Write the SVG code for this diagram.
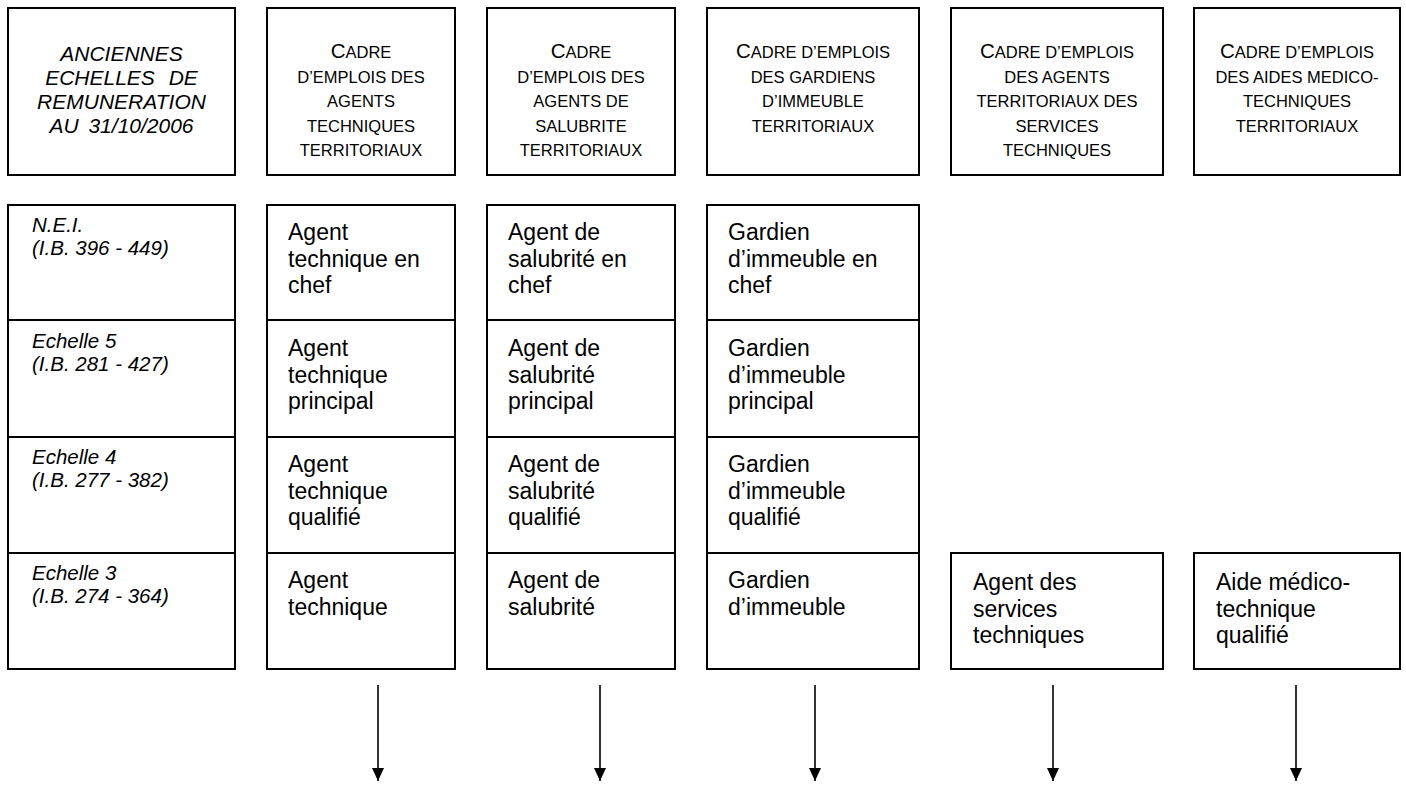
<svg xmlns="http://www.w3.org/2000/svg" width="1406" height="788" viewBox="0 0 1406 788">
<style>
rect.box{fill:#fff;stroke:#000;stroke-width:2}
text{font-family:"Liberation Sans",Arial,sans-serif;fill:#000}
.hd{font-size:16.5px;text-anchor:middle}
.hd .big{font-size:20.5px}
.lh{font-size:21px;font-style:italic;text-anchor:middle}
.lc{font-size:20.5px;font-style:italic}
.bd{font-size:23px}
.conn line{stroke:#000;stroke-width:1.6}
</style>
<defs>
<marker id="ah" markerUnits="userSpaceOnUse" markerWidth="14" markerHeight="14" refX="13" refY="0" viewBox="0 -7 14 14" orient="auto">
<path d="M0,-6 L13,0 L0,6 Z" fill="#000"/>
</marker>
</defs>
<rect width="1406" height="788" fill="#fff"/>

<g id="header-echelles">
<rect class="box" x="8" y="8" width="227" height="167"/>
<text class="lh" x="121.5" y="61">ANCIENNES</text>
<text class="lh" x="121.5" y="85" word-spacing="8">ECHELLES DE</text>
<text class="lh" x="121.5" y="109">REMUNERATION</text>
<text class="lh" x="121.5" y="133" word-spacing="4">AU 31/10/2006</text>
</g>

<g id="header-agents-techniques">
<rect class="box" x="267" y="8" width="188" height="167"/>
<text class="hd" x="361" y="58"><tspan class="big">C</tspan>ADRE</text>
<text class="hd" x="361" y="82.5">D’EMPLOIS DES</text>
<text class="hd" x="361" y="107">AGENTS</text>
<text class="hd" x="361" y="131.5">TECHNIQUES</text>
<text class="hd" x="361" y="156">TERRITORIAUX</text>
</g>

<g id="header-agents-salubrite">
<rect class="box" x="487" y="8" width="188" height="167"/>
<text class="hd" x="581" y="58"><tspan class="big">C</tspan>ADRE</text>
<text class="hd" x="581" y="82.5">D’EMPLOIS DES</text>
<text class="hd" x="581" y="107">AGENTS DE</text>
<text class="hd" x="581" y="131.5">SALUBRITE</text>
<text class="hd" x="581" y="156">TERRITORIAUX</text>
</g>

<g id="header-gardiens">
<rect class="box" x="707" y="8" width="212" height="167"/>
<text class="hd" x="813" y="58"><tspan class="big">C</tspan>ADRE D’EMPLOIS</text>
<text class="hd" x="813" y="82.5">DES GARDIENS</text>
<text class="hd" x="813" y="107">D’IMMEUBLE</text>
<text class="hd" x="813" y="131.5">TERRITORIAUX</text>
</g>

<g id="header-services-techniques">
<rect class="box" x="951" y="8" width="212" height="167"/>
<text class="hd" x="1057" y="58"><tspan class="big">C</tspan>ADRE D’EMPLOIS</text>
<text class="hd" x="1057" y="82.5">DES AGENTS</text>
<text class="hd" x="1057" y="107">TERRITORIAUX DES</text>
<text class="hd" x="1057" y="131.5">SERVICES</text>
<text class="hd" x="1057" y="156">TECHNIQUES</text>
</g>

<g id="header-aides-medico">
<rect class="box" x="1194" y="8" width="206" height="167"/>
<text class="hd" x="1297" y="58"><tspan class="big">C</tspan>ADRE D’EMPLOIS</text>
<text class="hd" x="1297" y="82.5">DES AIDES MEDICO-</text>
<text class="hd" x="1297" y="107">TECHNIQUES</text>
<text class="hd" x="1297" y="131.5">TERRITORIAUX</text>
</g>

<g id="row-nei">
<rect class="box" x="8" y="205" width="227" height="115"/>
<text class="lc" x="32" y="232">N.E.I.</text>
<text class="lc" x="32" y="254.5">(I.B. 396 - 449)</text>
</g>
<g id="row-e5">
<rect class="box" x="8" y="320" width="227" height="117"/>
<text class="lc" x="32" y="348">Echelle 5</text>
<text class="lc" x="32" y="370.5">(I.B. 281 - 427)</text>
</g>
<g id="row-e4">
<rect class="box" x="8" y="437" width="227" height="116"/>
<text class="lc" x="32" y="464">Echelle 4</text>
<text class="lc" x="32" y="486.5">(I.B. 277 - 382)</text>
</g>
<g id="row-e3">
<rect class="box" x="8" y="553" width="227" height="116"/>
<text class="lc" x="32" y="580">Echelle 3</text>
<text class="lc" x="32" y="602.5">(I.B. 274 - 364)</text>
</g>

<g id="at-chef">
<rect class="box" x="267" y="205" width="188" height="115"/>
<text class="bd" x="288" y="240">Agent</text>
<text class="bd" x="288" y="266.5">technique en</text>
<text class="bd" x="288" y="293">chef</text>
</g>
<g id="at-principal">
<rect class="box" x="267" y="320" width="188" height="117"/>
<text class="bd" x="288" y="356">Agent</text>
<text class="bd" x="288" y="382.5">technique</text>
<text class="bd" x="288" y="409">principal</text>
</g>
<g id="at-qualifie">
<rect class="box" x="267" y="437" width="188" height="116"/>
<text class="bd" x="288" y="472">Agent</text>
<text class="bd" x="288" y="498.5">technique</text>
<text class="bd" x="288" y="525">qualifié</text>
</g>
<g id="at-agent">
<rect class="box" x="267" y="553" width="188" height="116"/>
<text class="bd" x="288" y="588">Agent</text>
<text class="bd" x="288" y="614.5">technique</text>
</g>

<g id="as-chef">
<rect class="box" x="487" y="205" width="188" height="115"/>
<text class="bd" x="508" y="240">Agent de</text>
<text class="bd" x="508" y="266.5">salubrité en</text>
<text class="bd" x="508" y="293">chef</text>
</g>
<g id="as-principal">
<rect class="box" x="487" y="320" width="188" height="117"/>
<text class="bd" x="508" y="356">Agent de</text>
<text class="bd" x="508" y="382.5">salubrité</text>
<text class="bd" x="508" y="409">principal</text>
</g>
<g id="as-qualifie">
<rect class="box" x="487" y="437" width="188" height="116"/>
<text class="bd" x="508" y="472">Agent de</text>
<text class="bd" x="508" y="498.5">salubrité</text>
<text class="bd" x="508" y="525">qualifié</text>
</g>
<g id="as-agent">
<rect class="box" x="487" y="553" width="188" height="116"/>
<text class="bd" x="508" y="588">Agent de</text>
<text class="bd" x="508" y="614.5">salubrité</text>
</g>

<g id="gi-chef">
<rect class="box" x="707" y="205" width="212" height="115"/>
<text class="bd" x="728" y="240">Gardien</text>
<text class="bd" x="728" y="266.5">d’immeuble en</text>
<text class="bd" x="728" y="293">chef</text>
</g>
<g id="gi-principal">
<rect class="box" x="707" y="320" width="212" height="117"/>
<text class="bd" x="728" y="356">Gardien</text>
<text class="bd" x="728" y="382.5">d’immeuble</text>
<text class="bd" x="728" y="409">principal</text>
</g>
<g id="gi-qualifie">
<rect class="box" x="707" y="437" width="212" height="116"/>
<text class="bd" x="728" y="472">Gardien</text>
<text class="bd" x="728" y="498.5">d’immeuble</text>
<text class="bd" x="728" y="525">qualifié</text>
</g>
<g id="gi-agent">
<rect class="box" x="707" y="553" width="212" height="116"/>
<text class="bd" x="728" y="588">Gardien</text>
<text class="bd" x="728" y="614.5">d’immeuble</text>
</g>

<g id="ast-agent">
<rect class="box" x="951" y="553" width="212" height="116"/>
<text class="bd" x="973" y="590">Agent des</text>
<text class="bd" x="973" y="616.5">services</text>
<text class="bd" x="973" y="643">techniques</text>
</g>
<g id="amt-aide">
<rect class="box" x="1194" y="553" width="206" height="116"/>
<text class="bd" x="1216" y="590">Aide médico-</text>
<text class="bd" x="1216" y="616.5">technique</text>
<text class="bd" x="1216" y="643">qualifié</text>
</g>

<g id="connectors" class="conn">
<line x1="378" y1="685" x2="378" y2="781" marker-end="url(#ah)"/>
<line x1="600" y1="685" x2="600" y2="781" marker-end="url(#ah)"/>
<line x1="815" y1="685" x2="815" y2="781" marker-end="url(#ah)"/>
<line x1="1053" y1="685" x2="1053" y2="781" marker-end="url(#ah)"/>
<line x1="1296" y1="685" x2="1296" y2="781" marker-end="url(#ah)"/>
</g>
</svg>
